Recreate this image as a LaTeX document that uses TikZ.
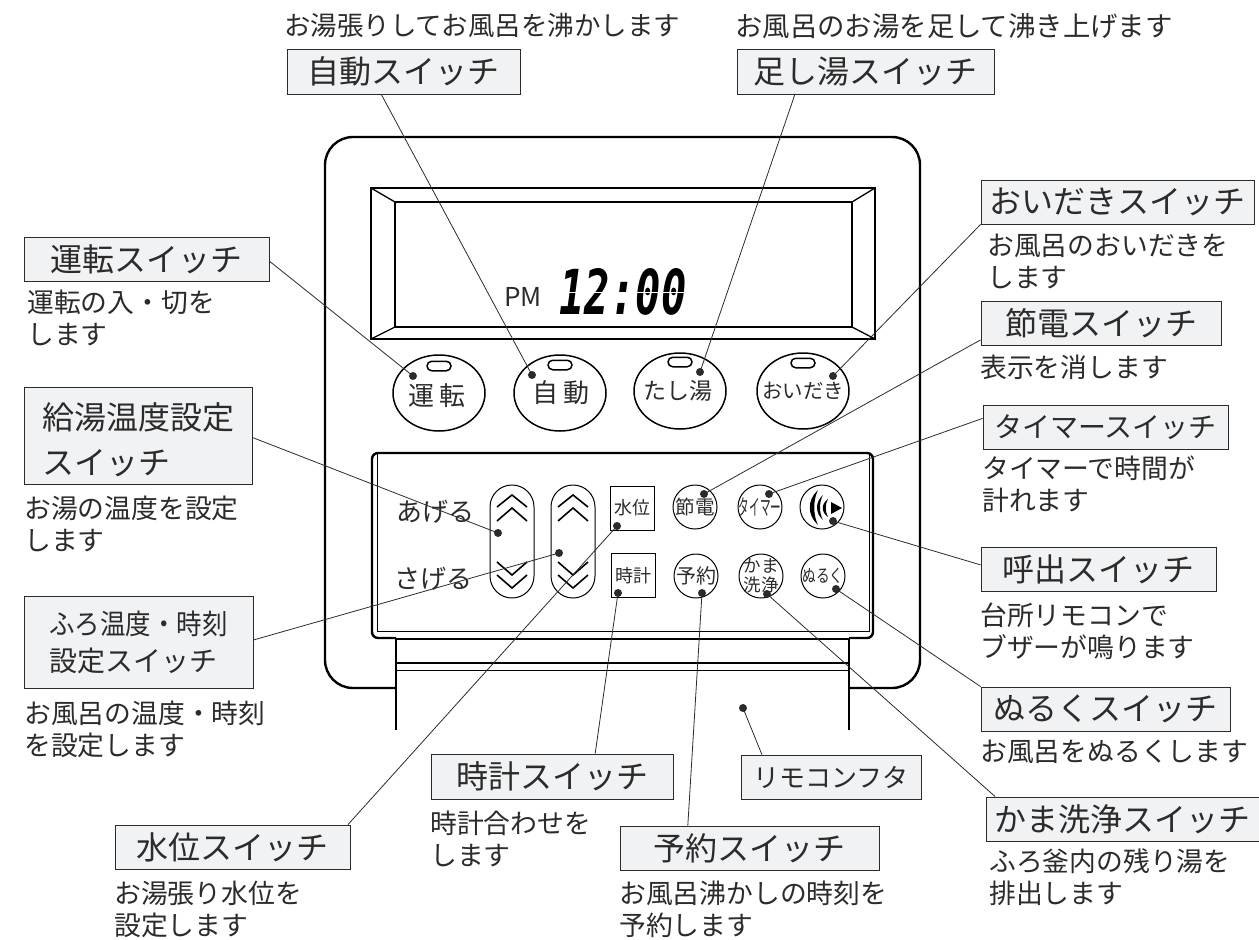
\documentclass[tikz,border=0pt]{standalone}
\usepackage{fontspec}
\usepackage{graphicx}
\setmainfont{Noto Sans CJK JP}
\newfontfamily\lcdfont{DejaVu Sans Mono}
\usetikzlibrary{shapes.geometric, arrows}
\definecolor{inkgray}{HTML}{2B2B2B}
\definecolor{boxgray}{HTML}{F1F2F4}
\tikzstyle{namebox} = [rectangle, draw=inkgray, line width=0.9pt, fill=boxgray, inner sep=0pt, text=inkgray, font=\fontsize{32}{37}\selectfont]
\tikzstyle{notetext} = [anchor=north west, inner sep=0pt, align=left, text=inkgray, font=\fontsize{26.8}{32}\selectfont]
\tikzstyle{paneltext} = [inner sep=0pt, text=inkgray, font=\fontsize{26}{30}\selectfont]
\tikzstyle{leader} = [line width=0.8pt, draw=inkgray]
\tikzstyle{leaddot} = [circle, fill=inkgray, inner sep=0pt, minimum size=8pt]
\tikzstyle{oval} = [ellipse, draw=black, line width=1.5pt, inner sep=0pt, minimum width=92pt, minimum height=76pt]
\tikzstyle{roundkey} = [circle, draw=black, line width=1pt, inner sep=0pt, minimum size=44pt]
\tikzstyle{squarekey} = [rectangle, draw=black, line width=1pt, inner sep=0pt, minimum size=44pt]
\tikzstyle{longkey} = [rectangle, rounded corners=22pt, draw=black, line width=1pt, inner sep=0pt, minimum width=44pt, minimum height=113pt]
\tikzstyle{lamp} = [rectangle, rounded corners=4.7pt, draw=black, line width=1.5pt, inner sep=0pt, minimum width=24pt, minimum height=9.5pt]
\tikzstyle{chevron} = [line width=1.6pt, draw=black]
\tikzstyle{body} = [line width=2.4pt, draw=black]
\tikzstyle{thinbody} = [line width=0.8pt, draw=black]
\begin{document}
\begin{tikzpicture}[x=1pt, y=-1pt]
      \useasboundingbox (0,0) rectangle (1259,940);

      % remote control body
      \draw [body, rounded corners=28pt] (396,688) -- (325,688) -- (325,137) -- (920,137) -- (920,688) -- (849,688);
      \draw [body] (371,188) rectangle (875,339);
      \draw [body] (395,202) rectangle (852,327);
      \draw [thinbody, line width=1.3pt] (371,188) -- (395,202) (875,188) -- (852,202) (371,339) -- (395,327) (875,339) -- (852,327);
      \draw [body, rounded corners=6pt] (396,638) -- (372,638) -- (372,453) -- (873,453) -- (873,638) -- (849,638);
      \draw [thinbody] (377,453) -- (377,631) -- (869,631) -- (869,453);
      \draw [body] (396,638) -- (396,730) (849,638) -- (849,730) (396,639) -- (849,639) (396,663) -- (849,663);
      \draw [thinbody] (396,670) -- (849,670);

      % display
      \node (pm) [paneltext] at (523,297) {\fontfamily{lmss}PM};
      \node (clock) [paneltext, text=black] at (623,292) {\lcdfont\fontsize{62}{62}\selectfont\bfseries\itshape\scalebox{0.68}[1]{12:00}};
      \draw [white, line width=1.3pt] (552,292.5) -- (694,292.5);

      % upper keys
      \node (runkey) [oval, label={[paneltext, yshift=-3pt, xshift=-2pt]center:運 転}] at (439,393) {};
      \node (autokey) [oval, label={[paneltext, xshift=1pt]center:自 動}] at (560,393) {};
      \node (addkey) [oval, label={[paneltext, font=\fontsize{23}{26}\selectfont, xshift=-2pt]center:たし湯}] at (680,391) {};
      \node (reheatkey) [oval, label={[paneltext, font=\fontsize{20.5}{24}\selectfont]center:おいだき}] at (803,391) {};
      \node (runlamp) [lamp] at (439,366) {};
      \node (autolamp) [lamp] at (560,365) {};
      \node (addlamp) [lamp] at (680,362) {};
      \node (reheatlamp) [lamp] at (803,363) {};

      % lower keys
      \node (uptext) [paneltext] at (435,512) {あげる};
      \node (downtext) [paneltext] at (433,579) {さげる};
      \node (hotkey) [longkey] at (512,541.5) {};
      \node (bathkey) [longkey] at (573,541.5) {};
      \foreach \kx in {512,573} {
        \draw [chevron] (\kx-15,507) -- (\kx,495) -- (\kx+15,507);
        \draw [chevron] (\kx-15,521) -- (\kx,508) -- (\kx+15,521);
        \draw [chevron] (\kx-15,562) -- (\kx,575) -- (\kx+15,562);
        \draw [chevron] (\kx-15,575) -- (\kx,588) -- (\kx+15,575);
      }
      \node (levelkey) [squarekey, font=\fontsize{18}{20}\selectfont, text=inkgray] at (632.5,508) {水位};
      \node (clockkey) [squarekey, font=\fontsize{18}{20}\selectfont, text=inkgray] at (633,575.5) {時計};
      \node (savekey) [roundkey, label={[paneltext, font=\fontsize{19.5}{22}\selectfont]center:節電}] at (695,507) {};
      \node (timerkey) [roundkey, label={[paneltext, font=\fontsize{22}{24}\selectfont]center:\scalebox{0.48}[1]{タイマー}}] at (760,507) {};
      \node (callkey) [roundkey] at (822,507) {};
      \node (bookkey) [roundkey, label={[paneltext, font=\fontsize{20}{22}\selectfont]center:予約}] at (696,576) {};
      \node (cleankey) [roundkey, label={[paneltext, align=center, font=\fontsize{17.5}{18.5}\selectfont]center:かま\\洗浄}] at (761,576) {};
      \node (coolkey) [roundkey, label={[paneltext, font=\fontsize{18}{20}\selectfont]center:\scalebox{0.76}[1]{ぬるく}}] at (823,576) {};
      \fill [black] (831,502) -- (842,508) -- (831,514) -- cycle;
      \fill [black] (818,490) .. controls (807,500) and (807,515) .. (818,525) .. controls (813,515) and (813,500) .. (818,490) -- cycle;
      \fill [black] (823,495) .. controls (815,502) and (815,513) .. (823,520) .. controls (819,513) and (819,502) .. (823,495) -- cycle;
      \fill [black] (828,499) .. controls (821,504) and (821,512) .. (828,517) .. controls (825,512) and (825,504) .. (828,499) -- cycle;

      % name boxes
      \node (autobox) [namebox, minimum width=233pt, minimum height=45pt] at (403.5,71.5) {自動スイッチ};
      \node (addbox) [namebox, minimum width=257pt, minimum height=45pt] at (865.5,71.5) {足し湯スイッチ};
      \node (reheatbox) [namebox, minimum width=273pt, minimum height=44pt] at (1117.5,202) {おいだきスイッチ};
      \node (runbox) [namebox, minimum width=245pt, minimum height=44pt] at (146.5,259) {運転スイッチ};
      \node (savebox) [namebox, minimum width=240pt, minimum height=44pt] at (1101,323) {節電スイッチ};
      \node (hotbox) [namebox, minimum width=228pt, minimum height=97pt, label={[inner sep=0pt, text=inkgray, align=left, font=\fontsize{32}{37}\selectfont, yshift=-4pt]center:給湯温度設定\\[8pt]スイッチ}] at (138,435.5) {};
      \node (timerbox) [namebox, minimum width=245pt, minimum height=44pt, font=\fontsize{28}{32}\selectfont] at (1105.5,427) {タイマースイッチ};
      \node (callbox) [namebox, minimum width=235pt, minimum height=44pt] at (1098.5,569) {呼出スイッチ};
      \node (bathbox) [namebox, minimum width=229pt, minimum height=92pt, align=left, font=\fontsize{28}{37}\selectfont] at (138.5,642) {\scalebox{0.91}[1]{ふろ温度・時刻}\\設定スイッチ};
      \node (coolbox) [namebox, minimum width=249pt, minimum height=44pt] at (1105.5,709) {ぬるくスイッチ};
      \node (clockbox) [namebox, minimum width=242pt, minimum height=45pt] at (552,776.5) {時計スイッチ};
      \node (lidbox) [namebox, minimum width=180pt, minimum height=44pt, font=\fontsize{26}{30}\selectfont] at (831,777) {リモコンフタ};
      \node (cleanbox) [namebox, minimum width=273pt, minimum height=44pt] at (1122.5,819) {かま洗浄スイッチ};
      \node (levelbox) [namebox, minimum width=235pt, minimum height=44pt] at (232.5,847) {水位スイッチ};
      \node (bookbox) [namebox, minimum width=259pt, minimum height=44pt] at (749.5,848) {予約スイッチ};

      % notes
      \node (autonote) [notetext, font=\fontsize{26.5}{31}\selectfont] at (284,13) {お湯張りしてお風呂を沸かします};
      \node (addnote) [notetext, font=\fontsize{27.4}{31}\selectfont] at (735,13) {お風呂のお湯を足して沸き上げます};
      \node (reheatnote) [notetext] at (987,234) {お風呂のおいだきを\\します};
      \node (runnote) [notetext] at (27,290) {運転の入・切を\\します};
      \node (savenote) [notetext] at (980,355) {表示を消します};
      \node (timernote) [notetext] at (982,456) {タイマーで時間が\\計れます};
      \node (hotnote) [notetext] at (24,496) {お湯の温度を設定\\します};
      \node (callnote) [notetext] at (980,603) {台所リモコンで\\ブザーが鳴ります};
      \node (bathnote) [notetext] at (24,701) {お風呂の温度・時刻\\を設定します};
      \node (coolnote) [notetext] at (980,740) {お風呂をぬるくします};
      \node (clocknote) [notetext] at (430,811) {時計合わせを\\します};
      \node (cleannote) [notetext] at (989,848) {ふろ釜内の残り湯を\\排出します};
      \node (levelnote) [notetext] at (114,881) {お湯張り水位を\\設定します};
      \node (booknote) [notetext] at (619,881) {お風呂沸かしの時刻を\\予約します};

      % dots
      \node (rundot) [leaddot] at (413,376) {};
      \node (autodot) [leaddot] at (532,375) {};
      \node (adddot) [leaddot] at (700,372) {};
      \node (reheatdot) [leaddot] at (833,376) {};
      \node (hotdot) [leaddot] at (498,533) {};
      \node (bathdot) [leaddot] at (559,553) {};
      \node (leveldot) [leaddot] at (617,526) {};
      \node (clockdot) [leaddot] at (618,593) {};
      \node (savedot) [leaddot] at (704,494) {};
      \node (timerdot) [leaddot] at (769,494) {};
      \node (calldot) [leaddot] at (833,521) {};
      \node (bookdot) [leaddot] at (702,593) {};
      \node (cleandot) [leaddot] at (767,594) {};
      \node (cooldot) [leaddot] at (836,589) {};
      \node (liddot) [leaddot] at (743,708) {};

      \draw [leader] (autobox.226.3) -- (autodot.center);
      \draw [leader] (addbox.198) -- (adddot.center);
      \draw [leader] (reheatbox.south west) -- (reheatdot.center);
      \draw [leader] (runbox.-1.4) -- (rundot.center);
      \draw [leader] (savebox.188) -- (savedot.center);
      \draw [leader] (hotbox.-1.8) -- (hotdot.center);
      \draw [leader] (timerbox.176.3) -- (timerdot.center);
      \draw [leader] (callbox.178) -- (calldot.center);
      \draw [leader] (bathbox.1.5) -- (bathdot.center);
      \draw [leader] (coolbox.north west) -- (cooldot.center);
      \draw [leader] (clockbox.28.2) -- (clockdot.center);
      \draw [leader] (lidbox.162.3) -- (liddot.center);
      \draw [leader] (cleanbox.170.7) -- (cleandot.center);
      \draw [leader] (levelbox.11.6) -- (leveldot.center);
      \draw [leader] (bookbox.160) -- (bookdot.center);
    \end{tikzpicture}
\end{document}
